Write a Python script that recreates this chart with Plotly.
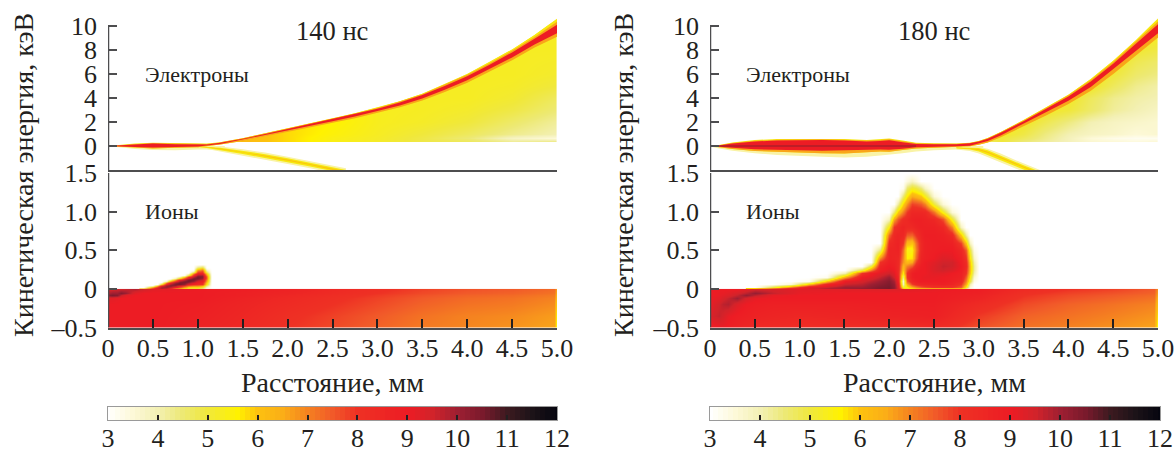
import plotly.graph_objects as go

W, H = 1175, 450
SERIF = "Liberation Serif"
INK = "#231f20"
AXC = "#4d4d4f"

SCALE_STOPS = [3, 3.5, 4, 4.5, 5, 5.6, 6, 6.5, 7, 7.5, 8, 9, 9.5, 10, 10.5, 11, 11.5, 12]
SCALE_COLORS = ["#ffffff", "#fdf9d8", "#f3f0b4", "#ede974", "#f0e83c", "#fff200", "#fdc20f", "#fbae17",
                "#f58220", "#f15a29", "#ee3124", "#ed1c24", "#d2232a", "#9e1f32", "#7a1a2c", "#3c1a20",
                "#1c1318", "#05050f"]
BAR_LEVELS = [3 + 0.1 * i for i in range(91)]
BAR_TICKS = [3, 4, 5, 6, 7, 8, 9, 10, 11, 12]

X_TICKS = [0, 0.5, 1, 1.5, 2, 2.5, 3, 3.5, 4, 4.5, 5]
X_LABELS = ["0", "0.5", "1.0", "1.5", "2.0", "2.5", "3.0", "3.5", "4.0", "4.5", "5.0"]
EL_TICKS = [0, 2, 4, 6, 8, 10]
ION_TICKS = [-0.5, 0, 0.5, 1.0, 1.5]
ION_LABELS = ["–0.5", "0", "0.5", "1.0", "1.5"]

# ---------- electrons, 140 ns ----------
e140_x = [0, .15, .3, .5, .75, 1, 1.1, 1.25, 1.5, 1.75, 2, 2.25, 2.5, 2.75, 3, 3.25, 3.5, 3.75, 4, 4.25, 4.5, 4.75, 5]
e140_yt = [0, .1, .2, .27, .22, .2, .2, .31, .65, 1.06, 1.47, 1.89, 2.3, 2.73, 3.2, 3.73, 4.36, 5.15, 5.99, 7.0, 8.05, 9.25, 10.6]
e140_ot = [0, .08, .17, .24, .2, .17, .17, .3, .63, 1.05, 1.46, 1.87, 2.28, 2.7, 3.17, 3.7, 4.32, 5.1, 5.93, 6.9, 7.93, 9.08, 10.35]
e140_rt = [0, .06, .14, .2, .15, .12, .12, .27, .6, 1.01, 1.42, 1.83, 2.24, 2.65, 3.1, 3.62, 4.24, 5.0, 5.82, 6.78, 7.8, 8.93, 10.1]
e140_rb = [0, -.03, -.08, -.12, -.08, -.04, .04, .17, .5, .89, 1.28, 1.67, 2.06, 2.45, 2.88, 3.37, 3.95, 4.68, 5.47, 6.4, 7.38, 8.45, 9.4]
e140_ob = [0, -.05, -.13, -.2, -.15, -.1, .0, .12, .42, .8, 1.18, 1.55, 1.94, 2.32, 2.74, 3.22, 3.8, 4.5, 5.28, 6.2, 7.15, 8.2, 9.1]
e140_low_x = [0, .15, .3, .5, .75, 1, 1.15, 1.3]
e140_low_yb = [-.03, -.12, -.25, -.33, -.35, -.3, -.3, -.1]
e140_neg_x = [.95, 1.1, 1.25, 1.5, 1.75, 2, 2.25, 2.5, 2.65]
e140_neg_hi = [-.02, -.02, -.05, -.27, -.55, -.9, -1.25, -1.62, -1.85]
e140_neg_lo = [-.1, -.25, -.48, -.8, -1.15, -1.5, -1.85, -2.25, -2.5]
e140_core_hi = [-.05, -.06, -.14, -.38, -.68, -1.02, -1.38, -1.76, -1.99]
e140_core_lo = [-.07, -.16, -.35, -.66, -1.0, -1.34, -1.71, -2.09, -2.36]
e140_mid_hi = [-.055, -.08, -.2, -.47, -.8, -1.13, -1.5, -1.87, -2.1]
e140_mid_lo = [-.065, -.11, -.27, -.55, -.88, -1.22, -1.59, -1.98, -2.25]
fan140_x = [1, 1.25, 1.5, 1.75, 2, 2.5, 3, 3.5, 4, 4.5, 5]
fan140_E = [.3, .42, .7, 1, 2, 3, 4, 5, 6, 7, 8, 9, 10, 11]
fan140_z = [
    [3, 3, 3, 3, 3, 3, 3, 3, 3, 3, 3],
    [6.8, 6.5, 6.2, 6, 5.8, 5.4, 5.2, 4.9, 4.7, 4.2, 4.3],
    [6.8, 6.5, 6.2, 6, 5.8, 5.4, 5.2, 4.9, 4.5, 3.8, 3.5],
    [6.8, 6.5, 6.2, 6, 5.8, 5.5, 5.25, 5, 4.7, 4.3, 4.0],
    [6.8, 6.5, 6.2, 6, 5.8, 5.6, 5.3, 5.2, 5, 4.6, 4.2],
    [6.8, 6.5, 6.2, 6, 5.8, 5.6, 5.3, 5.25, 5.15, 4.9, 4.5],
    [5.3, 5.3, 5.3, 5.3, 5.3, 5.3, 5.3, 5.25, 5.25, 5.1, 4.7],
    [5.3, 5.3, 5.3, 5.3, 5.3, 5.3, 5.3, 5.25, 5.25, 5.2, 5.0],
    [5.3, 5.3, 5.3, 5.3, 5.3, 5.3, 5.3, 5.25, 5.25, 5.25, 5.15],
    [5.3, 5.3, 5.3, 5.3, 5.3, 5.3, 5.3, 5.25, 5.25, 5.25, 5.2],
    [5.3, 5.3, 5.3, 5.3, 5.3, 5.3, 5.3, 5.25, 5.25, 5.25, 5.25],
    [5.3, 5.3, 5.3, 5.3, 5.3, 5.3, 5.3, 5.25, 5.25, 5.25, 5.25],
    [5.3, 5.3, 5.3, 5.3, 5.3, 5.3, 5.3, 5.25, 5.25, 5.25, 5.25],
    [3, 3, 3, 3, 3, 3, 3, 3, 3, 3, 3],
]

# ---------- electrons, 180 ns ----------
e180_x = [0, .1, .25, .5, .75, 1, 1.25, 1.5, 1.75, 1.9, 2, 2.15, 2.3, 2.5, 2.75, 2.9, 3, 3.1, 3.25, 3.5, 3.75, 4, 4.25, 4.5, 4.75, 5]
e180_yt = [0, .09, .3, .5, .58, .6, .62, .58, .5, .55, .62, .46, .27, .22, .21, .28, .42, .67, 1.19, 2.16, 3.21, 4.27, 5.58, 7.1, 8.8, 10.62]
e180_ot = [0, .07, .25, .44, .52, .55, .57, .52, .45, .5, .56, .4, .22, .18, .18, .25, .4, .65, 1.17, 2.13, 3.17, 4.22, 5.5, 7.0, 8.68, 10.38]
e180_rt = [0, .05, .2, .38, .45, .48, .5, .45, .38, .42, .48, .32, .17, .15, .15, .22, .37, .6, 1.12, 2.07, 3.1, 4.13, 5.38, 6.85, 8.5, 10.15]
e180_rb = [0, -.05, -.15, -.28, -.33, -.36, -.4, -.4, -.33, -.3, -.32, -.22, -.1, -.05, -.02, .03, .2, .42, .9, 1.83, 2.8, 3.77, 4.92, 6.35, 7.9, 9.4]
e180_ob = [0, -.08, -.25, -.42, -.5, -.55, -.6, -.62, -.52, -.45, -.47, -.33, -.2, -.13, -.08, -.03, .1, .3, .75, 1.65, 2.55, 3.5, 4.6, 6, 7.5, 9.05]
e180_low_x = [0, .1, .25, .5, .75, 1, 1.25, 1.5, 1.75, 1.9, 2, 2.15, 2.3, 2.5, 2.75, 2.9, 3.05]
e180_low_yb = [-.05, -.2, -.4, -.6, -.75, -.85, -.9, -.95, -.9, -.8, -.75, -.6, -.45, -.35, -.3, -.28, -.2]
e180_neg_x = [2.75, 2.9, 3, 3.1, 3.25, 3.4, 3.5, 3.6, 3.7]
e180_neg_hi = [-.05, -.05, -.08, -.22, -.65, -1.15, -1.45, -1.75, -2.05]
e180_neg_lo = [-.3, -.42, -.62, -.9, -1.35, -1.85, -2.15, -2.45, -2.75]
e180_core_hi = [-.1, -.12, -.16, -.36, -.8, -1.3, -1.6, -1.9, -2.2]
e180_core_lo = [-.2, -.3, -.45, -.72, -1.17, -1.67, -1.97, -2.27, -2.57]
e180_mid_hi = [-.13, -.16, -.24, -.48, -.93, -1.43, -1.73, -2.03, -2.33]
e180_mid_lo = [-.17, -.23, -.35, -.58, -1.03, -1.53, -1.83, -2.13, -2.43]
e180_dark_x = [0, .5, 1, 1.5, 2, 2.3]
e180_dark_E = [0, .0, .0, .0, .0, .0]
fan180_x = [3, 3.25, 3.5, 3.75, 4, 4.25, 4.5, 4.75, 5]
fan180_E = [.3, .42, .7, 1, 2, 3, 4, 5, 6, 7, 8, 9, 10, 11]
fan180_z = [
    [3, 3, 3, 3, 3, 3, 3, 3, 3],
    [4.5, 5, 4.5, 4.2, 3.9, 3.6, 3.5, 3.4, 3.5],
    [5, 5, 4.7, 4.3, 3.9, 3.5, 3.3, 3.2, 3.2],
    [5, 5.2, 4.9, 4.4, 4, 3.8, 3.7, 3.5, 3.6],
    [5.2, 5.25, 5.2, 4.8, 4.4, 4, 3.8, 3.7, 3.6],
    [5.25, 5.25, 5.25, 5.2, 5, 4.6, 4.2, 4, 3.8],
    [5.25, 5.25, 5.25, 5.25, 5.2, 4.7, 4.3, 4.1, 4],
    [5.25, 5.25, 5.25, 5.25, 5.25, 5.2, 4.7, 4.3, 4.1],
    [5.25, 5.25, 5.25, 5.25, 5.25, 5.25, 5.0, 4.6, 4.4],
    [5.25, 5.25, 5.25, 5.25, 5.25, 5.25, 5.25, 4.8, 4.6],
    [5.25, 5.25, 5.25, 5.25, 5.25, 5.25, 5.25, 5.1, 4.9],
    [5.25, 5.25, 5.25, 5.25, 5.25, 5.25, 5.25, 5.25, 5.2],
    [5.25, 5.25, 5.25, 5.25, 5.25, 5.25, 5.25, 5.25, 5.25],
    [3, 3, 3, 3, 3, 3, 3, 3, 3],
]

# ---------- ions below zero ----------
low_E = [-.5, -.35, -.2, -.12, -.08, -.05, -.004, -.002]
low140_x = [0, .05, .1, .15, .2, .3, .4, .5, 1, 1.5, 2, 2.5, 3, 3.5, 4, 4.5, 4.97, 5]
low140_z = [
    [9, 9, 9, 9, 9, 9, 9, 9, 8.7, 8.4, 8.0, 7.7, 7.4, 7.1, 6.95, 6.8, 6.6, 5.2],
    [9, 9, 9, 9, 9, 9, 9, 9, 8.8, 8.5, 8.1, 7.8, 7.5, 7.2, 7.0, 6.9, 6.7, 5.3],
    [9, 9, 9, 9, 9, 9, 9, 9, 8.9, 8.6, 8.3, 8.0, 7.7, 7.4, 7.2, 7.1, 6.9, 5.6],
    [9.2, 9.2, 9.1, 9, 9, 9, 9, 9, 9, 8.7, 8.4, 8.1, 7.8, 7.5, 7.3, 7.2, 7.0, 6],
    [10.2, 10.4, 10.3, 9.6, 9.2, 9, 9, 9, 9, 8.8, 8.5, 8.2, 7.9, 7.6, 7.4, 7.3, 7.1, 6.2],
    [9.8, 10, 10, 10.3, 10, 9.2, 9, 9, 9, 8.8, 8.6, 8.3, 8.0, 7.7, 7.5, 7.4, 7.2, 6.3],
    [9.4, 9.4, 9.5, 9.5, 9.6, 9.8, 9.5, 9.2, 9, 8.9, 8.7, 8.4, 8.1, 7.8, 7.6, 7.5, 7.3, 6.5],
    [9.4, 9.4, 9.5, 9.5, 9.6, 9.8, 9.5, 9.2, 9, 8.9, 8.7, 8.4, 8.1, 7.8, 7.6, 7.5, 7.3, 6.5],
]
low180_x = [0, .05, .1, .15, .2, .3, .4, .5, .7, 1, 1.5, 2, 2.5, 3, 3.5, 4, 4.5, 4.95, 5]
low180_z = [
    [8.7, 8.9, 9, 9, 8.9, 8.7, 8.5, 8.4, 8.3, 8.2, 8.2, 8.2, 8.3, 7.6, 7.2, 7.0, 6.8, 6.6, 5.2],
    [9.3, 9.5, 9.6, 9.4, 9.1, 8.9, 8.8, 8.7, 8.6, 8.5, 8.6, 8.7, 8.8, 7.9, 7.4, 7.2, 7.0, 6.8, 5.5],
    [9.0, 9.3, 9.5, 9.7, 9.8, 9.3, 9.0, 8.9, 8.8, 8.8, 8.8, 8.9, 8.9, 8.3, 7.7, 7.4, 7.2, 7.0, 5.9],
    [9, 9.1, 9.2, 9.4, 9.6, 10, 9.4, 9.1, 9, 9, 9, 9, 9, 8.6, 7.9, 7.6, 7.4, 7.2, 6.2],
    [9, 9, 9.1, 9.2, 9.3, 9.6, 10.1, 9.7, 9.1, 9, 9, 9, 9, 8.7, 8.0, 7.7, 7.5, 7.3, 6.4],
    [9, 9, 9.1, 9.1, 9.2, 9.4, 9.7, 10.1, 9.6, 9.1, 9, 9, 9, 8.8, 8.1, 7.8, 7.6, 7.4, 6.5],
    [9, 9, 9, 9, 9, 9, 9.2, 9.4, 9.4, 9.2, 9.2, 9.3, 9.1, 8.9, 8.3, 8.0, 7.8, 7.5, 6.7],
    [9, 9, 9, 9, 9, 9, 9.2, 9.4, 9.4, 9.2, 9.2, 9.3, 9.1, 8.9, 8.3, 8.0, 7.8, 7.5, 6.7],
]

# ---------- ions above zero: one list per x column, from E=0 upward, white (3) beyond the list ----------
hump140_E = [0, .02, .04, .06, .08, .1, .12, .14, .16, .18, .2, .22, .24, .26, .28, .3, .32]
hump140_x = [.4, .5, .55, .6, .65, .7, .75, .8, .85, .9, .95, 1, 1.05, 1.1, 1.15]
hump140_cols = [
    [8.8, 3], [9.5, 7, 3], [9.8, 9, 6, 3], [9.5, 10, 9, 6, 3.2], [8.5, 10, 10, 9, 7, 4, 3],
    [7, 9.5, 10.3, 10, 9, 7, 4, 3], [5, 8.5, 10, 10.5, 10, 8.5, 6.5, 4, 3],
    [4.5, 7.5, 9, 10.5, 10.5, 10, 8.5, 6, 3.5, 3], [4.5, 6.5, 8, 10, 10.5, 10.5, 9.5, 8, 5.5, 3.2, 3],
    [4.5, 5.5, 7.5, 9, 10, 10.5, 10.5, 9.5, 8, 5.5, 3.5, 3],
    [4.5, 5.5, 7, 8.5, 9.3, 10, 10.5, 10.5, 9.5, 8.5, 7, 5, 3.2, 3],
    [4.5, 5.5, 7, 8.2, 8.8, 9.2, 10, 10.5, 10.5, 10, 9, 8, 7, 5.5, 4.5, 3.5, 3],
    [3.5, 5, 6.5, 8, 8.5, 9, 9.5, 10, 10.3, 10, 9, 8.2, 7.5, 6.2, 5, 3.8, 3],
    [3, 3.5, 4.5, 5.5, 6, 6.5, 7, 7.5, 7.5, 7, 6, 5, 4, 3.2, 3],
    [3],
]
hump180_E = [0, .03, .06, .1, .15, .2, .25, .3, .35, .4, .5, .6, .7, .8, .9, 1.0, 1.1, 1.2, 1.3, 1.4, 1.5]
hump180_x = [.5, .7, .9, 1.1, 1.3, 1.5, 1.7, 1.8, 1.9, 2.0, 2.05, 2.1, 2.15, 2.2, 2.25, 2.3, 2.35, 2.4, 2.5, 2.6, 2.7, 2.8, 2.85, 2.9, 2.95, 3.0]
hump180_cols = [
    [8.5, 3], [9, 5, 3], [9.5, 7, 3.5], [9.5, 9, 6, 3.2], [10, 9.5, 8.5, 6, 3.2],
    [10, 10, 9.5, 9, 6.5, 4, 3], [10.3, 10, 9.7, 9.4, 9, 8, 5, 3],
    [10.3, 10.2, 10, 9.7, 9.2, 8.8, 7, 5, 3],
    [10.5, 10.4, 10.2, 10, 9.6, 9.2, 8.8, 8.5, 8, 6.8, 4.5, 3],
    [10.6, 10.5, 10.4, 10.3, 10, 9.5, 9.2, 9, 8.8, 8.7, 8.6, 8.3, 7.3, 5.5, 3.8, 3],
    [10.2, 10.2, 10.1, 9.9, 9.5, 9.2, 9, 8.8, 8.7, 8.6, 8.6, 8.5, 8.4, 8, 6.5, 4.5, 3],
    [9.3, 9.3, 9.1, 8.9, 8.6, 8.4, 8.4, 8.4, 8.4, 8.5, 8.7, 8.7, 8.6, 8.3, 7.5, 6, 4.2, 3],
    [6.5, 5, 3.8, 3.5, 4.5, 5.5, 6, 6.3, 6.8, 7, 7.3, 8, 8.5, 8.6, 8.2, 7, 5.8, 4.5, 3.2, 3],
    [5, 5.5, 6.5, 7.5, 8, 8, 7.6, 7, 6.2, 5.6, 5.4, 6.2, 7.5, 8.4, 8.4, 7.9, 6.8, 5.6, 4.6, 3.4, 3],
    [5, 6.5, 7.8, 8.5, 8.8, 8.8, 8.4, 7.5, 6.5, 5.7, 5.4, 6, 7.4, 8.4, 8.7, 8.5, 7.8, 6.5, 5.2, 3.8, 3],
    [5, 7, 8.3, 8.8, 9, 9, 8.8, 8.4, 7.8, 7.3, 7, 7.2, 8, 8.6, 8.8, 8.5, 7.7, 6.3, 5, 3.5, 3],
    [5, 7.5, 8.5, 9, 9, 9, 9, 8.9, 8.7, 8.6, 8.4, 8.4, 8.6, 8.8, 8.8, 8.5, 7.5, 6, 4.5, 3],
    [5, 7.7, 8.6, 9, 9.1, 9, 9, 9, 9, 8.8, 8.8, 8.8, 8.9, 8.8, 8.7, 8.4, 7, 5.3, 3.8, 3],
    [5, 8, 8.7, 9, 9.1, 9.2, 9.3, 9.3, 9.2, 9, 8.9, 8.9, 8.9, 8.8, 8.5, 7.2, 5, 3.5, 3],
    [5, 8, 8.8, 9, 9, 9.2, 9.5, 9.6, 9.5, 9.3, 9, 8.9, 8.8, 8.5, 7.6, 5.3, 3.5, 3],
    [5, 8, 8.6, 8.8, 8.9, 9, 9.3, 9.5, 9.5, 9.2, 9, 8.8, 8.4, 7, 5.2, 3.5, 3],
    [4.8, 7.5, 8, 8.5, 8.7, 8.8, 8.9, 9, 8.9, 8.8, 8.5, 7.8, 6, 3.8, 3],
    [3.5, 5.5, 6.5, 7, 7.5, 8, 8.2, 8.4, 8.3, 8, 7.5, 6, 4.2, 3],
    [3, 3.5, 4, 5, 5.5, 6, 6.2, 6.2, 6, 5.6, 5, 3.8, 3],
    [3, 3, 3, 3.3, 3.6, 4, 4.2, 4.2, 4, 3.7, 3.3, 3],
    [3],
]

YELLOW, ORANGE, RED, PALE = "#f7e80f", "#f9a51a", "#ed1c24", "#f9f3a6"
DARK_LINE = "#8f1f2b"


def rows_from_cols(cols, n):
    padded = [c + [3] * (n - len(c)) for c in cols]
    return [list(r) for r in zip(*padded)]


def dx(px):
    return px / W


def dy(px):
    return 1 - px / H


fig = go.Figure()


def heat(x, y, z, xa, ya, smooth="best"):
    fig.add_trace(go.Heatmap(x=x, y=y, z=z, coloraxis="coloraxis", zsmooth=smooth,
                             xaxis=xa, yaxis=ya, hoverinfo="skip"))


def band(x, hi, lo, color, xa, ya):
    fig.add_trace(go.Scatter(x=list(x) + list(x)[::-1], y=list(hi) + list(lo)[::-1], mode="lines",
                             line=dict(width=0), fill="toself", fillcolor=color, showlegend=False,
                             xaxis=xa, yaxis=ya, hoverinfo="skip"))


def electrons(xa, ya, x, yt, ot, rt, rb, ob, lx, lyb, nx, nhi, nlo, chi, clo, mhi, mlo, fx, fE, fz):
    heat(fx, fE, fz, xa, ya)
    band(x, [12] * len(x), yt, "#ffffff", xa, ya)
    band(lx, [0] * len(lx), lyb, PALE, xa, ya)
    band(nx, nhi, nlo, PALE, xa, ya)
    band(nx, chi, clo, YELLOW, xa, ya)
    band(nx, mhi, mlo, "#fbc40f", xa, ya)
    band(x, yt, ob, YELLOW, xa, ya)
    band(x, ot, ob, ORANGE, xa, ya)
    band(x, rt, rb, RED, xa, ya)


electrons("x", "y", e140_x, e140_yt, e140_ot, e140_rt, e140_rb, e140_ob, e140_low_x, e140_low_yb,
          e140_neg_x, e140_neg_hi, e140_neg_lo, e140_core_hi, e140_core_lo, e140_mid_hi, e140_mid_lo,
          fan140_x, fan140_E, fan140_z)
electrons("x4", "y4", e180_x, e180_yt, e180_ot, e180_rt, e180_rb, e180_ob, e180_low_x, e180_low_yb,
          e180_neg_x, e180_neg_hi, e180_neg_lo, e180_core_hi, e180_core_lo, e180_mid_hi, e180_mid_lo,
          fan180_x, fan180_E, fan180_z)
fig.add_trace(go.Scatter(x=e180_dark_x, y=e180_dark_E, mode="lines", line=dict(width=1, color=DARK_LINE),
                         showlegend=False, xaxis="x4", yaxis="y4", hoverinfo="skip"))

heat(hump140_x, hump140_E, rows_from_cols(hump140_cols, len(hump140_E)), "x2", "y2")
heat(low140_x, low_E, low140_z, "x2", "y2")
heat(hump180_x, hump180_E, rows_from_cols(hump180_cols, len(hump180_E)), "x5", "y5")
heat(low180_x, low_E, low180_z, "x5", "y5")

heat(BAR_LEVELS, [0, 1], [BAR_LEVELS, BAR_LEVELS], "x3", "y3", smooth=False)
heat(BAR_LEVELS, [0, 1], [BAR_LEVELS, BAR_LEVELS], "x6", "y6", smooth=False)

tick_font = dict(family=SERIF, size=26, color=INK)


def x_axis(x0, x1, y_anchor, labelled):
    return dict(domain=[dx(x0), dx(x1)], range=[0, 5], anchor=y_anchor, automargin=False, showgrid=False, zeroline=False,
                showline=True, linecolor=AXC, linewidth=2, tickmode="array", tickvals=X_TICKS if labelled else [],
                ticktext=X_LABELS if labelled else [], ticks="inside" if labelled else "", ticklen=9, tickwidth=1.5,
                tickcolor="#231f20", tickfont=tick_font, ticklabelstandoff=-4)


def y_axis(y0, y1, rng, vals, labels, x_anchor):
    return dict(domain=[dy(y1), dy(y0)], range=rng, anchor=x_anchor, automargin=False, showgrid=False, zeroline=False,
                showline=False, tickmode="array", tickvals=vals, ticktext=labels, ticks="inside", ticklen=9,
                tickwidth=1.5, tickcolor=AXC, tickfont=tick_font, ticklabelstandoff=10)


def bar_x(x0, x1, y_anchor):
    return dict(domain=[dx(x0), dx(x1)], range=[3, 12], anchor=y_anchor, automargin=False, showgrid=False, zeroline=False,
                showline=True, mirror=True, linecolor="#9a9a9a", linewidth=1, tickmode="array", tickvals=BAR_TICKS,
                ticks="inside", ticklen=5, tickwidth=1.5, tickcolor="#231f20", tickfont=tick_font, ticklabelstandoff=-5)


def bar_y(x_anchor):
    return dict(domain=[dy(420), dy(407)], range=[0, 1], anchor=x_anchor, automargin=False, showgrid=False, zeroline=False,
                showticklabels=False, ticks="", showline=True, mirror=True, linecolor="#9a9a9a", linewidth=1)


LX0, LX1, RX0, RX1 = 108, 557, 710, 1158
EL_TOP, EL_BOT, ION_TOP, ION_BOT = 14, 170, 173, 327.5
el_labels = [str(v) for v in EL_TICKS]


def axis_shape(xa, ya, y0, y1):
    return dict(type="line", xref=xa, yref=ya, x0=0, x1=0, y0=y0, y1=y1, line=dict(color=AXC, width=2.5))


def note(text, x, y, size, xanchor="center", angle=0):
    return dict(text=text, x=dx(x), y=dy(y), xref="paper", yref="paper", showarrow=False, xanchor=xanchor,
                yanchor="middle", textangle=angle, font=dict(family=SERIF, size=size, color=INK))


fig.update_layout(
    width=W, height=H, margin=dict(l=0, r=0, t=0, b=0), paper_bgcolor="white", plot_bgcolor="white",
    showlegend=False,
    coloraxis=dict(cmin=3, cmax=12, showscale=False,
                   colorscale=[[(s - 3) / 9, c] for s, c in zip(SCALE_STOPS, SCALE_COLORS)]),
    xaxis=x_axis(LX0, LX1, "y", False), yaxis=y_axis(EL_TOP, EL_BOT, [-2, 11], EL_TICKS, el_labels, "x"),
    xaxis2=x_axis(LX0, LX1, "y2", True), yaxis2=y_axis(ION_TOP, ION_BOT, [-.5, 1.5], ION_TICKS, ION_LABELS, "x2"),
    xaxis3=bar_x(LX0, LX1, "y3"), yaxis3=bar_y("x3"),
    xaxis4=x_axis(RX0, RX1, "y4", False), yaxis4=y_axis(EL_TOP, EL_BOT, [-2, 11], EL_TICKS, el_labels, "x4"),
    xaxis5=x_axis(RX0, RX1, "y5", True), yaxis5=y_axis(ION_TOP, ION_BOT, [-.5, 1.5], ION_TICKS, ION_LABELS, "x5"),
    xaxis6=bar_x(RX0, RX1 + 2, "y6"), yaxis6=bar_y("x6"),
    shapes=[axis_shape("x", "y", -2, 10), axis_shape("x2", "y2", -.5, 1.5),
            axis_shape("x4", "y4", -2, 10), axis_shape("x5", "y5", -.5, 1.5)],
    annotations=[
        note("140 нс", 332, 31, 26.5), note("180 нс", 934, 31, 26.5),
        note("Электроны", 143, 75, 22, "left"), note("Электроны", 744, 75, 22, "left"),
        note("Ионы", 143, 212, 22, "left"), note("Ионы", 744, 212, 22, "left"),
        note("Расстояние, мм", 332, 382, 28), note("Расстояние, мм", 934, 382, 28),
        note("Кинетическая энергия, кэВ", 24, 175, 28, angle=-90),
        note("Кинетическая энергия, кэВ", 624, 175, 28, angle=-90),
    ],
)

fig.write_html("out.html", post_script="document.body.style.margin='0';", config={"displayModeBar": False})
